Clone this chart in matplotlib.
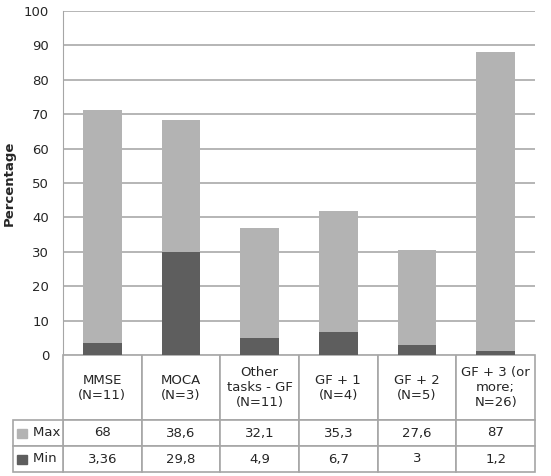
import numpy as np
import matplotlib.pyplot as plt
from matplotlib.patches import Rectangle

# categories and values
categories = ['MMSE\n(N=11)', 'MOCA\n(N=3)', 'Other\ntasks - GF\n(N=11)',
              'GF + 1\n(N=4)', 'GF + 2\n(N=5)', 'GF + 3 (or\nmore;\nN=26)']
max_vals = [68, 38.6, 32.1, 35.3, 27.6, 87]
min_vals = [3.36, 29.8, 4.9, 6.7, 3, 1.2]
max_labels = ['68', '38,6', '32,1', '35,3', '27,6', '87']
min_labels = ['3,36', '29,8', '4,9', '6,7', '3', '1,2']
series = ['Max', 'Min']

c_max = '#b3b3b3'
c_min = '#5e5e5e'
edge = '#a6a6a6'
txt = '#262626'

fig = plt.figure(figsize=(5.51, 4.76), dpi=100)
ax = fig.add_axes([63/551, 121/476, 472/551, 344/476])

x = np.arange(len(categories))
ax.bar(x, min_vals, width=0.49, color=c_min, zorder=3)
ax.bar(x, max_vals, width=0.49, bottom=min_vals, color=c_max, zorder=3)

ax.set_xlim(-0.5, len(categories) - 0.5)
ax.set_ylim(0, 100)
ax.set_yticks(np.arange(0, 101, 10))
ax.tick_params(axis='y', length=0, labelsize=9.5, labelcolor=txt, pad=10)
ax.set_xticks([])
ax.yaxis.grid(True, color='#b0b0b0', linewidth=1.3, zorder=0)
for s in ['top', 'right', 'bottom']:
    ax.spines[s].set_visible(False)
ax.spines['left'].set_color(edge)
ax.set_ylabel('Percentage', fontsize=9.5, fontweight='bold', color=txt)
ax.yaxis.set_label_coords(-(63 - 16) / 472, 0.5)

# table geometry (axes fractions)
hdr_h = 65 / 344
row_h = 26 / 344
lab_w = (63 - 13) / 472

t1 = ax.table(cellText=[categories], cellLoc='center',
              bbox=[0, -hdr_h, 1, hdr_h])
t2 = ax.table(cellText=[max_labels, min_labels], cellLoc='center',
              bbox=[0, -hdr_h - 2 * row_h, 1, 2 * row_h])
t3 = ax.table(cellText=[['    ' + s] for s in series], cellLoc='left',
              bbox=[-lab_w, -hdr_h - 2 * row_h, lab_w, 2 * row_h])
for t in (t1, t2, t3):
    t.auto_set_font_size(False)
    t.set_fontsize(9.5)
    for key, cell in t.get_celld().items():
        cell.set_edgecolor(edge)
        cell.set_linewidth(1.2)
        cell.get_text().set_color(txt)
for cell in t3.get_celld().values():
    cell.PAD = 0.05

# legend keys inside the row label cells
for i, col in enumerate([c_max, c_min]):
    yc = -hdr_h - (i + 0.5) * row_h
    ax.add_patch(Rectangle((-lab_w + 4/472, yc - 4.5/344), 10/472, 9/344,
                           color=col, transform=ax.transAxes, clip_on=False, zorder=5))

fig.savefig('out.png', dpi=100)
